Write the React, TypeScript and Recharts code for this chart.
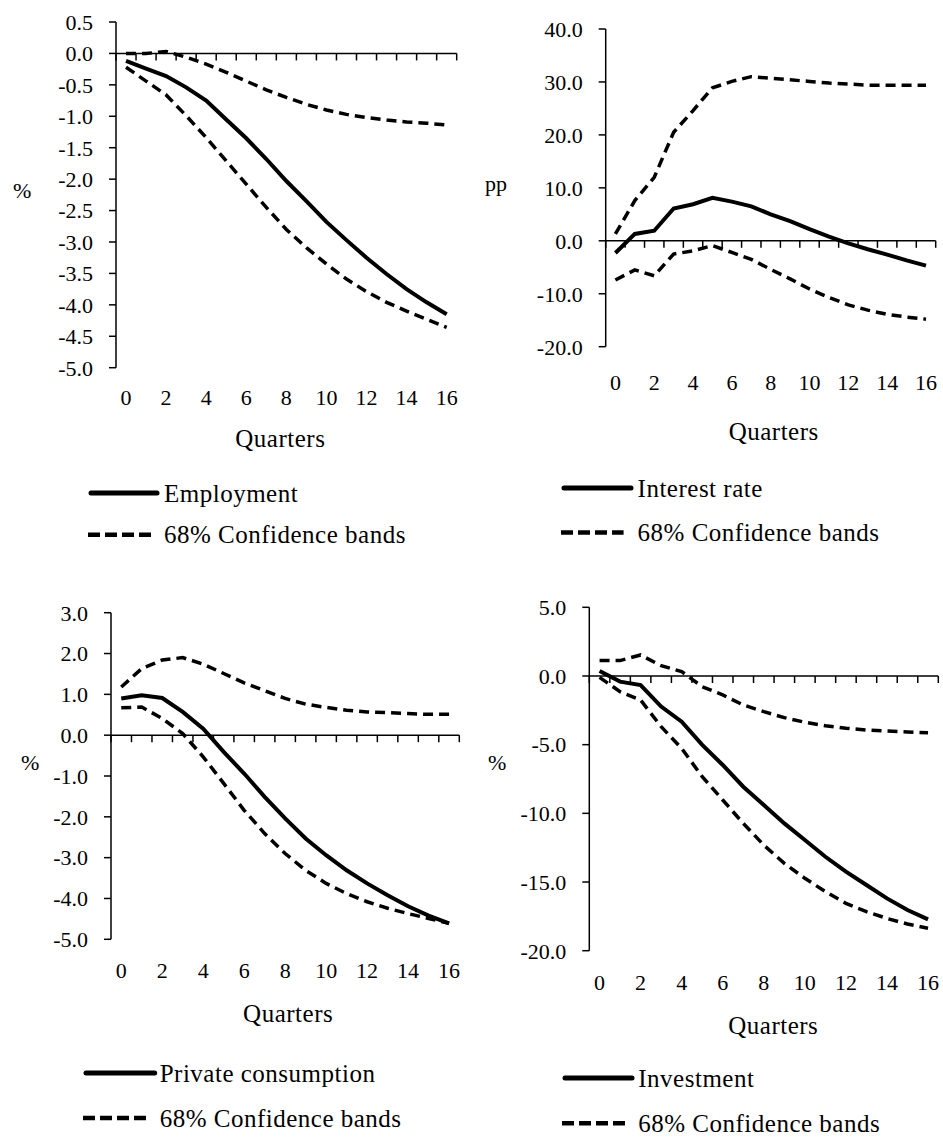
import React from 'react';
import { LineChart, Line, XAxis, YAxis, ReferenceLine, Legend } from 'recharts';

const FONT = 'Liberation Serif, Tinos, DejaVu Serif, serif';

const quarters = [0, 1, 2, 3, 4, 5, 6, 7, 8, 9, 10, 11, 12, 13, 14, 15, 16];
const quarterTicks = [0, 2, 4, 6, 8, 10, 12, 14, 16];
const bandLabel = '68% Confidence bands';

// Employment (%)
const employment = [-0.12, -0.24, -0.36, -0.54, -0.75, -1.05, -1.35, -1.68, -2.03, -2.35, -2.68, -2.97, -3.25, -3.51, -3.75, -3.96, -4.15];
const employmentHi = [0.0, 0.0, 0.03, -0.06, -0.17, -0.3, -0.44, -0.58, -0.7, -0.81, -0.9, -0.97, -1.02, -1.06, -1.09, -1.11, -1.14];
const employmentLo = [-0.22, -0.44, -0.66, -0.99, -1.34, -1.71, -2.08, -2.45, -2.8, -3.09, -3.35, -3.59, -3.79, -3.96, -4.1, -4.23, -4.36];
const employmentTicks = [-5, -4.5, -4, -3.5, -3, -2.5, -2, -1.5, -1, -0.5, 0, 0.5];

// Interest rate (pp)
const interest = [-2.3, 1.3, 1.9, 6.1, 6.9, 8.1, 7.4, 6.5, 5.0, 3.7, 2.2, 0.8, -0.5, -1.6, -2.6, -3.7, -4.7];
const interestHi = [1.3, 7.6, 12.0, 20.5, 24.6, 28.9, 30.1, 31.0, 30.7, 30.4, 30.1, 29.8, 29.6, 29.4, 29.4, 29.4, 29.4];
const interestLo = [-7.4, -5.5, -6.6, -2.5, -1.9, -0.9, -2.2, -3.5, -5.4, -7.2, -9.1, -10.7, -12.1, -13.1, -13.9, -14.4, -14.8];
const interestTicks = [-20, -10, 0, 10, 20, 30, 40];

// Private consumption (%)
const consumption = [0.9, 0.98, 0.91, 0.57, 0.16, -0.41, -0.94, -1.51, -2.04, -2.53, -2.94, -3.31, -3.63, -3.92, -4.19, -4.42, -4.61];
const consumptionHi = [1.18, 1.63, 1.84, 1.9, 1.74, 1.51, 1.28, 1.09, 0.9, 0.76, 0.68, 0.61, 0.57, 0.55, 0.53, 0.51, 0.51];
const consumptionLo = [0.67, 0.69, 0.41, 0.04, -0.53, -1.18, -1.84, -2.41, -2.9, -3.31, -3.63, -3.88, -4.08, -4.24, -4.37, -4.49, -4.61];
const consumptionTicks = [-5, -4, -3, -2, -1, 0, 1, 2, 3];

// Investment (%)
const investment = [0.36, -0.41, -0.66, -2.23, -3.33, -5.02, -6.48, -8.06, -9.39, -10.73, -11.94, -13.16, -14.25, -15.22, -16.19, -17.04, -17.72];
const investmentHi = [1.12, 1.12, 1.53, 0.75, 0.32, -0.78, -1.38, -2.11, -2.6, -3.03, -3.37, -3.62, -3.81, -3.93, -4.0, -4.08, -4.13];
const investmentLo = [-0.1, -1.14, -1.75, -3.69, -5.27, -7.33, -9.03, -10.73, -12.31, -13.64, -14.73, -15.7, -16.55, -17.16, -17.65, -18.06, -18.37];
const investmentTicks = [-20, -15, -10, -5, 0, 5];

type Box = { left: number; top: number; width: number; height: number };
type Plot = { left: number; top: number; right: number; bottom: number };
type LegendPos = { x0: number; solidX1: number; dashX1: number; y1: number; y2: number; textX: number };

type PanelProps = {
  name: string;
  unit: string;
  mid: number[];
  hi: number[];
  lo: number[];
  yTicks: number[];
  box: Box;
  plot: Plot;
  unitX: number;
  unitDy: number;
  xLabelCenter: number;
  quartersBaseline: number;
  quartersDx: number;
  legend: LegendPos;
};

const X_AXIS_H = 100;
const textStyle = { fontFamily: FONT };
const wordStyle = { fontFamily: FONT, letterSpacing: 0.5 };

const Panel = (p: PanelProps) => {
  const data = quarters.map((q, i) => ({ q, mid: p.mid[i], hi: p.hi[i], lo: p.lo[i] }));
  const yMin = p.yTicks[0];
  const yMax = p.yTicks[p.yTicks.length - 1];
  const plotH = p.plot.bottom - p.plot.top;
  const tickLen = (7 * (yMax - yMin)) / plotH;
  const yAxisW = p.plot.left - p.box.left;
  const margin = {
    top: p.plot.top - p.box.top,
    left: 0,
    right: p.box.left + p.box.width - p.plot.right,
    bottom: p.box.top + p.box.height - p.plot.bottom - X_AXIS_H,
  };
  const boundaries = quarters.map((q) => q - 0.5).concat([16.5]);
  const lg = p.legend;
  const lx = lg.x0 - p.box.left;
  const ly = lg.y1 - 25 - p.box.top;
  const row2 = 25 + lg.y2 - lg.y1;

  const legendContent = () => (
    <svg width={360} height={100} style={{ display: 'block', overflow: 'visible' }}>
      <line x1={3} x2={lg.solidX1 - lg.x0} y1={25} y2={25} stroke="#000" strokeWidth={5} strokeLinecap="round" />
      <text x={lg.textX - lg.x0} y={25 + 8.5} fontFamily={FONT} style={wordStyle} fontSize={25} fill="#000">{p.name}</text>
      <line x1={0} x2={lg.dashX1 - lg.x0} y1={row2} y2={row2} stroke="#000" strokeWidth={4.5} strokeDasharray="12 5" />
      <text x={lg.textX - lg.x0} y={row2 + 8.5} fontFamily={FONT} style={wordStyle} fontSize={25} fill="#000">{bandLabel}</text>
    </svg>
  );

  return (
    <div style={{ position: 'absolute', left: p.box.left, top: p.box.top, fontFamily: FONT }}>
      <LineChart width={p.box.width} height={p.box.height} data={data} margin={margin} style={textStyle}>
        <XAxis
          dataKey="q"
          type="number"
          domain={[-0.5, 16.5]}
          ticks={quarterTicks}
          interval={0}
          axisLine={false}
          tickLine={false}
          tickSize={0}
          tickMargin={p.xLabelCenter - 8.2 - p.plot.bottom}
          height={X_AXIS_H}
          tick={{ fontFamily: FONT, fontSize: 22, fill: '#000' }}
          label={{
            value: 'Quarters',
            position: 'insideBottom',
            offset: p.plot.bottom + X_AXIS_H - p.quartersBaseline,
            dx: p.quartersDx,
            fontFamily: FONT,
            fontSize: 25,
            letterSpacing: 0.5,
            fill: '#000',
          }}
        />
        <YAxis
          type="number"
          domain={[yMin, yMax]}
          ticks={p.yTicks}
          interval={0}
          width={yAxisW}
          axisLine={{ stroke: '#000', strokeWidth: 1.5 }}
          tickLine={{ stroke: '#000', strokeWidth: 1.5 }}
          tickSize={7}
          tickMargin={16}
          tickFormatter={(v: number) => v.toFixed(1)}
          tick={{ fontFamily: FONT, fontSize: 22, fill: '#000' }}
          label={{
            value: p.unit,
            position: 'insideLeft',
            offset: p.unitX - p.box.left,
            dy: p.unitDy,
            fontFamily: FONT,
            fontSize: 22,
            fill: '#000',
          }}
        />
        <ReferenceLine y={0} stroke="#000" strokeWidth={1.5} />
        {boundaries.map((b) => (
          <ReferenceLine
            key={b}
            segment={[
              { x: b, y: 0 },
              { x: b, y: -tickLen },
            ]}
            stroke="#000"
            strokeWidth={1.5}
          />
        ))}
        <Line type="linear" dataKey="hi" stroke="#000" strokeWidth={3.5} strokeDasharray="10 6" dot={false} isAnimationActive={false} legendType="none" />
        <Line type="linear" dataKey="lo" stroke="#000" strokeWidth={3.5} strokeDasharray="10 6" dot={false} isAnimationActive={false} legendType="none" />
        <Line type="linear" dataKey="mid" stroke="#000" strokeWidth={4} dot={false} isAnimationActive={false} name={p.name} />
        <Legend
          layout="vertical"
          align="center"
          verticalAlign="middle"
          content={legendContent}
          wrapperStyle={{ left: lx, top: ly, width: 360, height: 100 }}
        />
      </LineChart>
    </div>
  );
};

export default function App() {
  return (
    <div style={{ position: 'absolute', left: 0, top: 0, width: 943, height: 1137, background: '#fff', overflow: 'hidden' }}>
      <Panel
        name="Employment"
        unit="%"
        mid={employment}
        hi={employmentHi}
        lo={employmentLo}
        yTicks={employmentTicks}
        box={{ left: 0, top: 0, width: 470, height: 560 }}
        plot={{ left: 116, top: 22, right: 456.7, bottom: 367.7 }}
        unitX={13}
        unitDy={-5}
        xLabelCenter={398}
        quartersBaseline={446.7}
        quartersDx={-6}
        legend={{ x0: 88, solidX1: 157, dashX1: 153, y1: 493.3, y2: 535, textX: 164 }}
      />
      <Panel
        name="Interest rate"
        unit="pp"
        mid={interest}
        hi={interestHi}
        lo={interestLo}
        yTicks={interestTicks}
        box={{ left: 470, top: 0, width: 473, height: 560 }}
        plot={{ left: 605.7, top: 29, right: 935.7, bottom: 346.7 }}
        unitX={485}
        unitDy={-5}
        xLabelCenter={383}
        quartersBaseline={440}
        quartersDx={3}
        legend={{ x0: 560.7, solidX1: 630.7, dashX1: 623.3, y1: 488.3, y2: 532.7, textX: 637.3 }}
      />
      <Panel
        name="Private consumption"
        unit="%"
        mid={consumption}
        hi={consumptionHi}
        lo={consumptionLo}
        yTicks={consumptionTicks}
        box={{ left: 0, top: 570, width: 470, height: 567 }}
        plot={{ left: 111, top: 612.7, right: 459.3, bottom: 939.3 }}
        unitX={21}
        unitDy={-14}
        xLabelCenter={970.5}
        quartersBaseline={1021.7}
        quartersDx={3}
        legend={{ x0: 83.3, solidX1: 155, dashX1: 148.3, y1: 1073.3, y2: 1118.3, textX: 160 }}
      />
      <Panel
        name="Investment"
        unit="%"
        mid={investment}
        hi={investmentHi}
        lo={investmentLo}
        yTicks={investmentTicks}
        box={{ left: 470, top: 570, width: 473, height: 567 }}
        plot={{ left: 589.3, top: 607.3, right: 938.3, bottom: 950.7 }}
        unitX={488}
        unitDy={-17}
        xLabelCenter={982.5}
        quartersBaseline={1034.3}
        quartersDx={9.5}
        legend={{ x0: 561.7, solidX1: 631.7, dashX1: 625, y1: 1078.3, y2: 1123.5, textX: 638 }}
      />
    </div>
  );
}
